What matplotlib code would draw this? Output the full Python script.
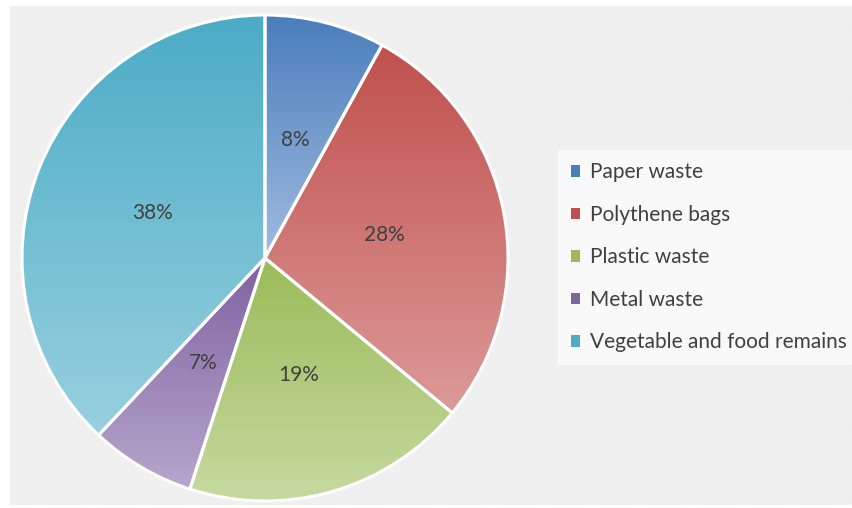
import matplotlib
matplotlib.use("Agg")
import matplotlib.pyplot as plt
import numpy as np
from matplotlib.patches import Rectangle
from matplotlib.colors import to_rgb

categories = ["Paper waste", "Polythene bags", "Plastic waste", "Metal waste",
              "Vegetable and food remains"]
values = [8, 28, 19, 7, 38]
top_colors = ["#4a7ebb", "#c0504d", "#9bbb59", "#7e62a1", "#4bacc6"]
bottom_colors = ["#a0bbe0", "#dc9a98", "#c6da9f", "#b7a6cc", "#98d0df"]

plt.rcParams['font.family'] = ['Lato', 'DejaVu Sans']
plt.rcParams['hatch.linewidth'] = 0.5

W, H = 852, 508
fig = plt.figure(figsize=(W / 100, H / 100), dpi=100)
fig.patch.set_facecolor("white")
ax = fig.add_axes([0, 0, 1, 1])

# hatched background
bg = Rectangle((10, 3), W - 10, H - 9, facecolor="#fcfcfc", edgecolor="#e3e3e3",
               hatch="\\" * 16, linewidth=0, zorder=0)
ax.add_patch(bg)

cx, cy, R = 265, H - 258, 243
wedges, texts, autotexts = ax.pie(
    values, startangle=90, counterclock=False, center=(cx, cy), radius=R,
    autopct=lambda p: f"{p:.0f}%", pctdistance=0.5,
    wedgeprops=dict(edgecolor="white", linewidth=2.2),
    textprops=dict(fontsize=15, color="#404040"), frame=True)
ax.set_xlim(0, W)
ax.set_ylim(0, H)
ax.set_aspect("equal")
ax.axis("off")

for w, c1, c2 in zip(wedges, top_colors, bottom_colors):
    t = np.linspace(np.radians(w.theta1), np.radians(w.theta2), 200)
    xs = np.concatenate([[cx], cx + R * np.cos(t)])
    ys = np.concatenate([[cy], cy + R * np.sin(t)])
    y0, y1 = ys.min(), ys.max()
    x0, x1 = xs.min(), xs.max()
    n = 256
    a = np.array(to_rgb(c1)); b = np.array(to_rgb(c2))
    f = np.linspace(0, 1, n)[:, None]
    grad = (a * (1 - f) + b * f)[:, None, :]
    im = ax.imshow(grad, extent=(x0, x1, y0, y1), origin="upper",
                   aspect="auto", zorder=1, interpolation="bilinear")
    im.set_clip_path(w)
    w.set_facecolor("none")
    w.set_zorder(2)
for t in autotexts:
    t.set_zorder(3)

ax.set_xlim(0, W)
ax.set_ylim(0, H)

handles = [Rectangle((0, 0), 1, 1, facecolor=c, edgecolor="none") for c in top_colors]
leg = ax.legend(handles, categories, loc="upper left",
                bbox_to_anchor=(558 / W, 1 - 150 / H), bbox_transform=fig.transFigure,
                frameon=True, fontsize=15, handlelength=0.45, handleheight=0.45,
                handletextpad=0.5, labelspacing=1.08, borderpad=0.6, borderaxespad=0,
                labelcolor="#404040")
leg.get_frame().set_facecolor("white")
leg.get_frame().set_alpha(0.65)
leg.get_frame().set_edgecolor("none")
leg.get_frame().set_boxstyle("square", pad=0)

fig.savefig("out.png", dpi=100, facecolor="white")
